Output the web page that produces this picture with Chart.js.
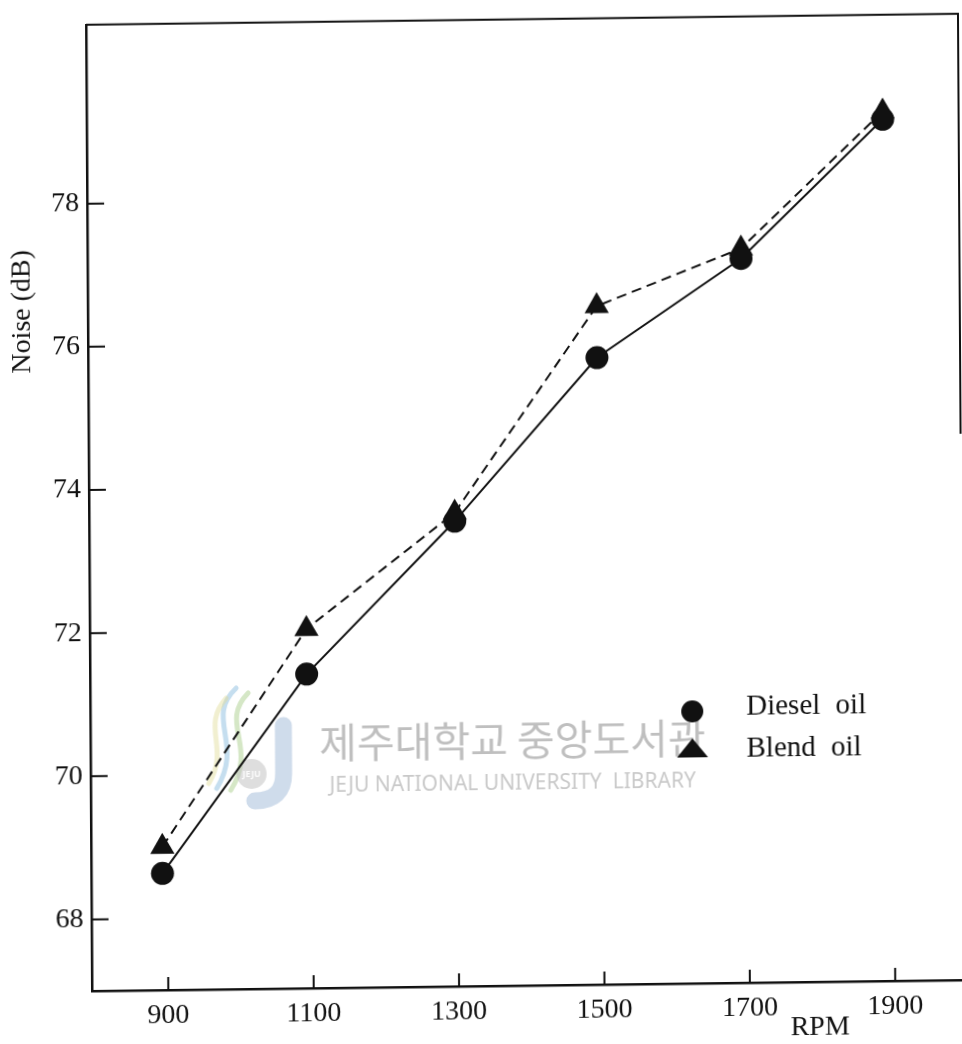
<!DOCTYPE html>
<html>
<head>
<meta charset="utf-8">
<title>Noise vs RPM</title>
<script src="https://cdn.jsdelivr.net/npm/chart.js@4/dist/chart.umd.min.js"></script>
<style>
  html, body { margin: 0; padding: 0; background: #fff; overflow: hidden; width: 962px; height: 1044px; }
  /* the printed figure sits slightly askew on the page */
  #wrap { position: absolute; left: 0; top: 0; transform-origin: 0 0;
          transform: matrix(1, -0.01259, 0.00616, 1, -0.105, 1.083); }
  canvas { display: block; }
</style>
</head>
<body>
<div id="wrap"><canvas id="c" width="980" height="1070"></canvas></div>
<script>
// Engine speed (rpm) at which noise was measured
const rpm = [893, 1093, 1298, 1495, 1694, 1890];
// Noise level (dB) for each fuel
const dieselOil = [68.63, 71.39, 73.50, 75.76, 77.12, 79.04];
const blendOil  = [69.00, 72.02, 73.62, 76.48, 77.26, 79.15];
// Axis tick labels
const rpmTicks   = [900, 1100, 1300, 1500, 1700, 1900];
const noiseTicks = [68, 70, 72, 74, 76, 78];
const seriesNames = ['Diesel oil', 'Blend oil'];
const axisTitles = { x: 'RPM', y: 'Noise (dB)' };
const watermarkText = ['제주대학교 중앙도서관', 'JEJU NATIONAL UNIVERSITY  LIBRARY'];

const INK = '#111';
const SERIF = '"Liberation Serif", "Times New Roman", serif';

const toPoints = (ys) => rpm.map((r, i) => ({ x: r, y: ys[i] }));

const figurePlugin = {
  id: 'figure',
  beforeDatasetsDraw(chart) {
    const ctx = chart.ctx;
    ctx.save();
    // library stamp behind the data
    ctx.lineCap = 'round';
    ctx.lineWidth = 5;
    ctx.strokeStyle = 'rgba(150,195,225,0.55)';
    ctx.beginPath(); ctx.moveTo(232, 690); ctx.bezierCurveTo(200, 720, 240, 745, 212, 790); ctx.stroke();
    ctx.strokeStyle = 'rgba(185,215,160,0.6)';
    ctx.beginPath(); ctx.moveTo(244, 695); ctx.bezierCurveTo(214, 725, 254, 748, 226, 792); ctx.stroke();
    ctx.strokeStyle = 'rgba(225,220,150,0.45)';
    ctx.beginPath(); ctx.moveTo(222, 700); ctx.bezierCurveTo(196, 728, 226, 750, 204, 785); ctx.stroke();
    ctx.lineWidth = 17;
    ctx.strokeStyle = 'rgba(160,185,215,0.5)';
    ctx.beginPath(); ctx.moveTo(279, 728); ctx.lineTo(279, 776);
    ctx.quadraticCurveTo(279, 803, 250, 803); ctx.stroke();
    ctx.fillStyle = 'rgba(190,190,190,0.5)';
    ctx.beginPath(); ctx.arc(247, 776, 15, 0, Math.PI * 2); ctx.fill();
    ctx.fillStyle = 'rgba(255,255,255,0.9)';
    ctx.font = 'bold 9px "Noto Sans", sans-serif';
    ctx.textAlign = 'center'; ctx.textBaseline = 'middle';
    ctx.fillText('JEJU', 247, 776);

    ctx.fillStyle = 'rgba(180,180,180,0.85)';
    ctx.font = '41px "Noto Sans CJK KR", sans-serif';
    ctx.fillText(watermarkText[0], 508, 745);
    ctx.fillStyle = 'rgba(192,192,192,0.85)';
    ctx.font = '21px "Noto Sans", sans-serif';
    ctx.fillText(watermarkText[1], 508, 789);
    ctx.restore();
  },
  afterDraw(chart) {
    const { ctx, chartArea: a, scales: { x, y } } = chart;
    ctx.save();
    ctx.strokeStyle = INK;
    ctx.lineWidth = 2;
    // inward tick marks
    ctx.beginPath();
    noiseTicks.forEach(v => {
      const py = y.getPixelForValue(v);
      ctx.moveTo(a.left, py); ctx.lineTo(a.left + 17, py);
    });
    rpmTicks.forEach(v => {
      const px = x.getPixelForValue(v);
      ctx.moveTo(px, a.bottom); ctx.lineTo(px, a.bottom - 13);
    });
    ctx.stroke();
    // top rule and short right rule of the frame
    ctx.beginPath();
    ctx.moveTo(a.left, a.top); ctx.lineTo(a.right - 4, a.top); ctx.lineTo(a.right - 4, a.top + 420);
    ctx.stroke();

    // axis titles
    ctx.fillStyle = INK;
    ctx.font = '28px ' + SERIF;
    ctx.textAlign = 'center';
    ctx.textBaseline = 'middle';
    ctx.fillText(axisTitles.x, 814, 1037);
    ctx.save();
    ctx.translate(21, 311);
    ctx.rotate(-Math.PI / 2);
    ctx.fillText(axisTitles.y, 0, 0);
    ctx.restore();

    // legend
    const lx = 688;
    const rows = [719, 756];
    ctx.fillStyle = INK;
    ctx.beginPath(); ctx.arc(lx, rows[0], 11, 0, Math.PI * 2); ctx.fill();
    ctx.beginPath();
    ctx.moveTo(lx, rows[1] - 10); ctx.lineTo(lx + 15.5, rows[1] + 9); ctx.lineTo(lx - 15.5, rows[1] + 9);
    ctx.closePath(); ctx.fill();
    ctx.textAlign = 'left';
    ctx.font = '29px ' + SERIF;
    if ('wordSpacing' in ctx) ctx.wordSpacing = '8px';
    ctx.fillText(seriesNames[0], 742, rows[0] - 4);
    ctx.fillText(seriesNames[1], 742, rows[1] + 1);
    ctx.restore();
  }
};

new Chart(document.getElementById('c'), {
  type: 'line',
  data: {
    datasets: [
      {
        label: seriesNames[0],
        data: toPoints(dieselOil),
        borderColor: INK,
        backgroundColor: INK,
        borderWidth: 2,
        pointStyle: 'circle',
        pointRadius: 11.5,
        pointBorderWidth: 0,
        pointBackgroundColor: INK,
        tension: 0
      },
      {
        label: seriesNames[1],
        data: toPoints(blendOil),
        borderColor: INK,
        backgroundColor: INK,
        borderWidth: 2,
        borderDash: [10, 6],
        pointStyle: 'triangle',
        pointRadius: 14,
        pointBorderWidth: 0,
        pointBackgroundColor: INK,
        tension: 0
      }
    ]
  },
  options: {
    responsive: false,
    animation: false,
    devicePixelRatio: 1,
    layout: { padding: { left: 0, right: 18, top: 17, bottom: 0 } },
    plugins: { legend: { display: false }, tooltip: { enabled: false } },
    scales: {
      x: {
        type: 'linear',
        min: 795,
        max: 2000,
        afterBuildTicks: s => { s.ticks = rpmTicks.map(v => ({ value: v })); },
        afterFit: s => { s.height = 79; },
        grid: { display: false, drawTicks: false },
        border: { display: true, color: INK, width: 2.5 },
        ticks: {
          padding: 9,
          color: INK,
          font: { family: SERIF, size: 28 },
          autoSkip: false,
          maxRotation: 0,
          callback: v => String(v)
        }
      },
      y: {
        min: 67,
        max: 80.5,
        afterBuildTicks: s => { s.ticks = noiseTicks.map(v => ({ value: v })); },
        afterFit: s => { s.width = 86; },
        grid: { display: false, drawTicks: false },
        border: { display: true, color: INK, width: 2.5 },
        ticks: {
          padding: 8,
          color: INK,
          font: { family: SERIF, size: 28 },
          autoSkip: false,
          callback: v => String(v)
        }
      }
    }
  },
  plugins: [figurePlugin]
});
</script>
</body>
</html>
